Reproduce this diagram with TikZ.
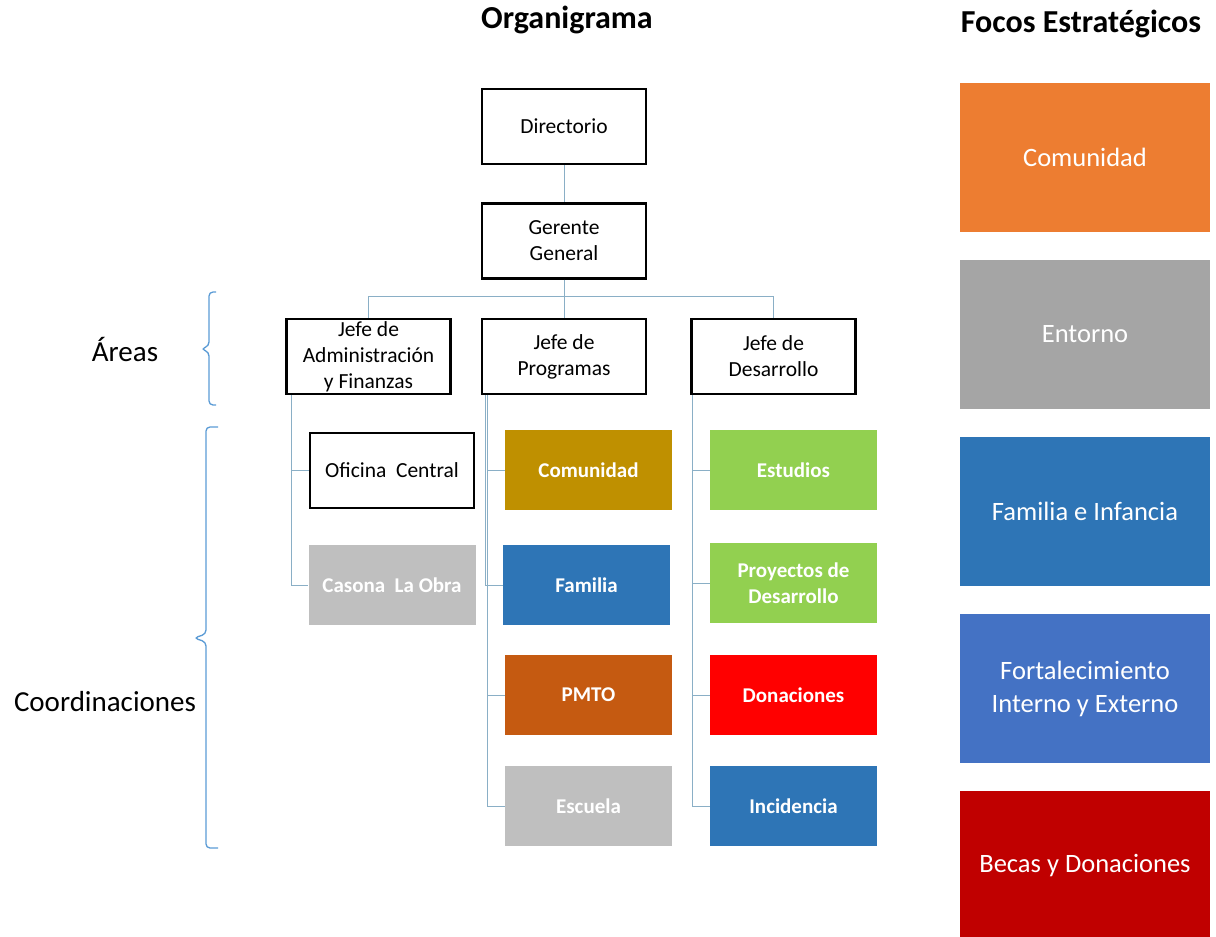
\documentclass[tikz,border=0pt]{standalone}
\usepackage{fontspec}
\setmainfont{Carlito}
\usetikzlibrary{calc}
\definecolor{Wire}{HTML}{8AAFC6}
\definecolor{Brace}{HTML}{5B9BD5}
\definecolor{Ochre}{HTML}{BF9000}
\definecolor{Steel}{HTML}{2E75B6}
\definecolor{Rust}{HTML}{C55A11}
\definecolor{Silver}{HTML}{BFBFBF}
\definecolor{Lime}{HTML}{92D050}
\definecolor{Scarlet}{HTML}{FF0000}
\definecolor{Tangerine}{HTML}{ED7D31}
\definecolor{Ash}{HTML}{A5A5A5}
\definecolor{Royal}{HTML}{4472C4}
\definecolor{Crimson}{HTML}{C00000}

\begin{document}
\begin{tikzpicture}[x=1pt,y=-1pt,
    post/.style={draw=black,line width=2.6pt,fill=white,inner sep=1pt,minimum width=164pt,minimum height=75pt,align=center,font=\fontsize{21.5}{26}\selectfont},
    unit/.style={fill=#1,text=white,inner sep=1pt,minimum width=167pt,minimum height=80pt,align=center,font=\fontsize{21}{26}\selectfont\bfseries},
    focus/.style={fill=#1,text=white,minimum width=250pt,minimum height=149pt,align=center,font=\fontsize{26.5}{33}\selectfont},
    link/.style={draw=Wire,line width=1pt},
    curly/.style={draw=Brace,line width=1.3pt,rounded corners=4pt}]
    \useasboundingbox (0,0) rectangle (1216,937);

    \node[anchor=base,font=\fontsize{32}{36}\selectfont\bfseries] (title) at (567,28) {Organigrama};
    \node[anchor=base,font=\fontsize{32}{36}\selectfont\bfseries] (ftitle) at (1081,32) {Focos Estratégicos};

    \node[post] (dir) at (564,126.5) {Directorio};
    \node[post] (ger) at (564,241) {Gerente\\General};
    \node[post] (jadm) at (368.5,356.5) {Jefe de\\Administración\\y Finanzas};
    \node[post] (jprog) at (564,356.5) {Jefe de\\Programas};
    \node[post] (jdes) at (773.5,356.5) {Jefe de\\Desarrollo};

    \node[post] (ofi) at (392,470.5) {Oficina\ \ Central};
    \node[unit=Silver] (cas) at (392,585) {Casona\ \ La Obra};
    \node[unit=Ochre] (com) at (588.5,470) {Comunidad};
    \node[unit=Steel] (fam) at (586.5,585) {Familia};
    \node[unit=Rust] (pmto) at (588.5,695) {PMTO};
    \node[unit=Silver] (esc) at (588.5,806) {Escuela};
    \node[unit=Lime] (est) at (793.5,470) {Estudios};
    \node[unit=Lime] (pro) at (793.5,583) {Proyectos de\\Desarrollo};
    \node[unit=Scarlet] (don) at (793.5,695) {Donaciones};
    \node[unit=Steel] (inc) at (793.5,806) {Incidencia};

    \draw[link] (dir) -- (ger);
    \draw[link] (ger) -- (jprog);
    \draw[link] (ger.south) -- ++(0,17) -| (jadm.north);
    \draw[link] (ger.south) -- ++(0,17) -| (jdes.north);
    \foreach \j/\k in {jadm/ofi,jadm/cas,jprog/com,jprog/fam,jprog/pmto,jprog/esc,jdes/est,jdes/pro,jdes/don,jdes/inc}
      \draw[link] ([xshift=-17pt]\k.west |- \j.south) |- (\k.west);

    % grupos a la izquierda
    \draw[curly] (216,292) -| (209,346) -- (201,349) -- (209,352) |- (216,405);
    \draw[curly] (218,427) -| (206,634) -- (194,638) -- (206,642) |- (218,848);
    \node[font=\fontsize{29}{33}\selectfont] (areas) at (125,349) {Áreas};
    \node[font=\fontsize{29}{33}\selectfont] (coord) at (105,702) {Coordinaciones};

    \node[focus=Tangerine] (f1) at (1085,157.5) {Comunidad};
    \node[focus=Ash] (f2) at (1085,334.5) {Entorno};
    \node[focus=Steel] (f3) at (1085,511.5) {Familia e Infancia};
    \node[focus=Royal] (f4) at (1085,688.5) {Fortalecimiento\\Interno y Externo};
    \node[focus=Crimson] (f5) at (1085,865.5) {Becas y Donaciones};
  \end{tikzpicture}
\end{document}
